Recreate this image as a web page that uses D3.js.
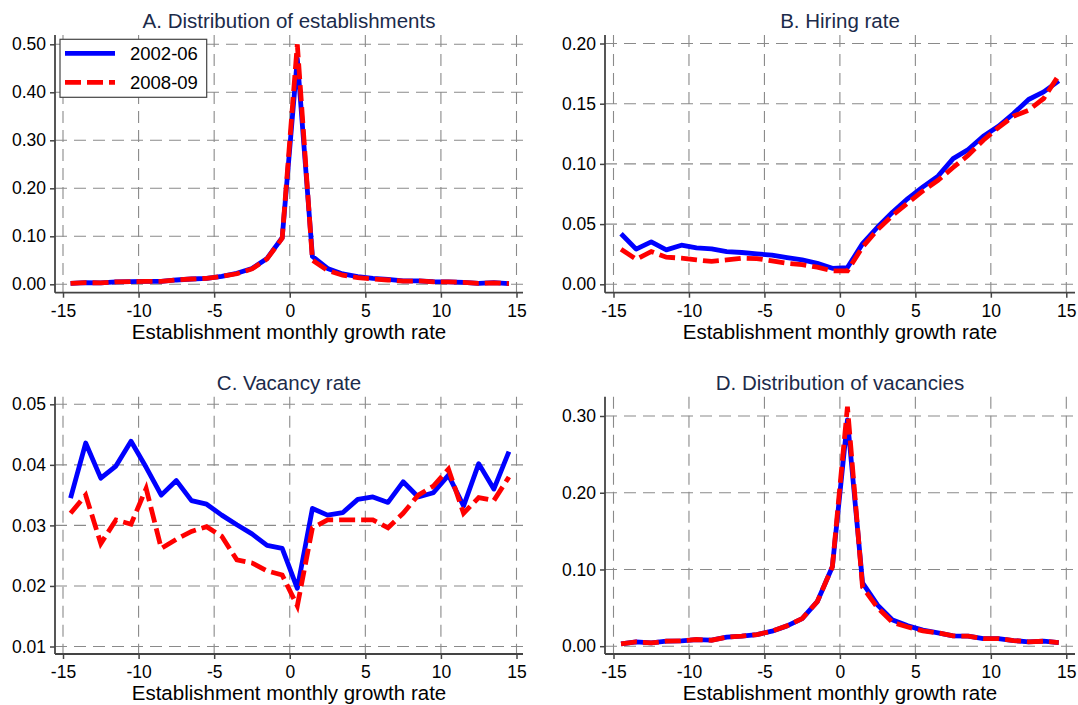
<!DOCTYPE html>
<html>
<head>
<meta charset="utf-8">
<script src="https://cdn.jsdelivr.net/npm/d3@7"></script>
<style>
  body { margin: 0; background: #fff; }
  svg { font-family: "Liberation Sans", Arial, sans-serif; }
</style>
</head>
<body>
<script>
// bin centres of the establishment monthly growth rate
const growthBins = [-14.5, -13.5, -12.5, -11.5, -10.5, -9.5, -8.5, -7.5, -6.5, -5.5, -4.5, -3.5, -2.5, -1.5, -0.5,
                    0.5, 1.5, 2.5, 3.5, 4.5, 5.5, 6.5, 7.5, 8.5, 9.5, 10.5, 11.5, 12.5, 13.5, 14.5];
const xTicks = [-15, -10, -5, 0, 5, 10, 15];
const periods = ["2002-06", "2008-09"];

// A. Distribution of establishments
const estab0206 = [0.002, 0.0035, 0.003, 0.005, 0.0055, 0.006, 0.006, 0.009, 0.011, 0.0125, 0.0167, 0.023, 0.033, 0.054, 0.097,
                   0.47, 0.058, 0.033, 0.0215, 0.016, 0.0125, 0.0104, 0.007, 0.007, 0.0055, 0.005, 0.004, 0.002, 0.0035, 0.0015];
const estab0809 = [0.002, 0.0035, 0.003, 0.005, 0.0055, 0.006, 0.006, 0.009, 0.011, 0.0125, 0.0165, 0.022, 0.032, 0.053, 0.096,
                   0.50, 0.05, 0.029, 0.019, 0.014, 0.011, 0.009, 0.0065, 0.007, 0.005, 0.005, 0.004, 0.002, 0.003, 0.0015];
const estabTicks = [0, 0.1, 0.2, 0.3, 0.4, 0.5];

// B. Hiring rate
const hire0206 = [0.042, 0.0292, 0.0353, 0.0286, 0.0325, 0.0303, 0.0294, 0.0272, 0.0264, 0.0253, 0.0242, 0.0222, 0.0203, 0.0175, 0.0133,
                  0.0139, 0.0338, 0.0476, 0.0601, 0.0712, 0.0809, 0.0898, 0.1044, 0.1119, 0.123, 0.1313, 0.1418, 0.1535, 0.1598, 0.169];
const hire0809 = [0.0292, 0.0208, 0.0272, 0.0225, 0.0217, 0.0203, 0.019, 0.0203, 0.0217, 0.0214, 0.0194, 0.0175, 0.0164, 0.0142, 0.0111,
                  0.0111, 0.031, 0.0454, 0.0573, 0.0676, 0.0776, 0.0864, 0.097, 0.1072, 0.1197, 0.1302, 0.1396, 0.1446, 0.1543, 0.1737];
const hireTicks = [0, 0.05, 0.1, 0.15, 0.2];

// C. Vacancy rate
const vac0206 = [0.0345, 0.0436, 0.0378, 0.0398, 0.0439, 0.0396, 0.035, 0.0374, 0.0341, 0.0335, 0.0317, 0.0301, 0.0286, 0.0267, 0.0262,
                 0.0196, 0.0328, 0.0317, 0.0321, 0.0343, 0.0347, 0.0338, 0.0372, 0.0347, 0.0354, 0.0383, 0.0332, 0.0402, 0.036, 0.0422];
const vac0809 = [0.032, 0.035, 0.027, 0.0309, 0.0302, 0.0361, 0.0262, 0.0277, 0.029, 0.0298, 0.0282, 0.0243, 0.0238, 0.0225, 0.0218,
                 0.0167, 0.0296, 0.0309, 0.0309, 0.0309, 0.0309, 0.0296, 0.032, 0.035, 0.0365, 0.0393, 0.032, 0.0346, 0.0341, 0.038];
const vacTicks = [0.01, 0.02, 0.03, 0.04, 0.05];

// D. Distribution of vacancies
const vdist0206 = [0.003, 0.0057, 0.0043, 0.0065, 0.007, 0.0087, 0.0078, 0.0117, 0.013, 0.0152, 0.0196, 0.0265, 0.036, 0.058, 0.1035,
                   0.295, 0.0826, 0.0535, 0.034, 0.0265, 0.021, 0.0174, 0.0135, 0.013, 0.01, 0.01, 0.0074, 0.0057, 0.0065, 0.0048];
const vdist0809 = [0.003, 0.0057, 0.0043, 0.0065, 0.007, 0.0087, 0.0078, 0.0117, 0.013, 0.0152, 0.0196, 0.0265, 0.036, 0.058, 0.1035,
                   0.312, 0.077, 0.05, 0.031, 0.025, 0.02, 0.0174, 0.0135, 0.013, 0.01, 0.01, 0.0074, 0.0057, 0.0065, 0.0048];
const vdistTicks = [0, 0.1, 0.2, 0.3];

const width = 1078;
const height = 705;

const svg = d3.select("body")
    .append("svg")
    .attr("width", width)
    .attr("height", height);

// where each panel sits on the page
const panels = [
    {title: "A. Distribution of establishments", a: estab0206, b: estab0809, ticks: estabTicks,
     left: 55, right: 523, top: 35, bottom: 292.7, xr: [63, 516.5], yr: [284.3, 44.3], legend: true},
    {title: "B. Hiring rate", a: hire0206, b: hire0809, ticks: hireTicks,
     left: 605, right: 1075, top: 35, bottom: 292.7, xr: [613.5, 1066.3], yr: [284.3, 43.5]},
    {title: "C. Vacancy rate", a: vac0206, b: vac0809, ticks: vacTicks,
     left: 55, right: 523, top: 396.7, bottom: 654, xr: [63, 516.5], yr: [646.5, 404.3]},
    {title: "D. Distribution of vacancies", a: vdist0206, b: vdist0809, ticks: vdistTicks,
     left: 605, right: 1075, top: 396.7, bottom: 654, xr: [613.5, 1066.3], yr: [646.2, 416]}
];

const gridColor = "#8a8a8a";
const axisColor = "#444";

panels.forEach(p => {
    const x = d3.scaleLinear().domain([-15, 15]).range(p.xr);
    const y = d3.scaleLinear().domain([p.ticks[0], p.ticks[p.ticks.length - 1]]).range(p.yr);
    const g = svg.append("g");

    // dashed grid
    g.selectAll(".hgrid")
        .data(p.ticks)
        .join("line")
        .attr("x1", p.left).attr("x2", p.right)
        .attr("y1", d => y(d)).attr("y2", d => y(d))
        .attr("stroke", gridColor).attr("stroke-width", 1.1)
        .attr("stroke-dasharray", "12,7");
    g.selectAll(".vgrid")
        .data(xTicks)
        .join("line")
        .attr("x1", d => x(d)).attr("x2", d => x(d))
        .attr("y1", p.top).attr("y2", p.bottom)
        .attr("stroke", gridColor).attr("stroke-width", 1.1)
        .attr("stroke-dasharray", "12,7");

    // axes
    const yAxis = g.append("g")
        .attr("transform", `translate(${p.left},0)`)
        .call(d3.axisLeft(y).tickValues(p.ticks).tickSize(5).tickPadding(4).tickFormat(d3.format(".2f")));
    const xAxis = g.append("g")
        .attr("transform", `translate(0,${p.bottom})`)
        .call(d3.axisBottom(x).tickValues(xTicks).tickSize(5).tickPadding(7).tickFormat(d => d));
    [yAxis, xAxis].forEach(ax => {
        ax.select(".domain").remove();
        ax.selectAll("line").attr("stroke", axisColor).attr("stroke-width", 1.5);
        ax.selectAll("text").attr("fill", "#000").style("font-size", "17.5px")
            .style("font-family", "'Liberation Sans', Arial, sans-serif");
    });
    g.append("line")
        .attr("x1", p.left).attr("x2", p.left).attr("y1", p.top).attr("y2", p.bottom)
        .attr("stroke", axisColor).attr("stroke-width", 1.8);
    g.append("line")
        .attr("x1", p.left).attr("x2", p.right).attr("y1", p.bottom).attr("y2", p.bottom)
        .attr("stroke", axisColor).attr("stroke-width", 1.8);

    // titles
    g.append("text")
        .attr("x", (p.left + p.right) / 2)
        .attr("y", p.top - 7)
        .attr("text-anchor", "middle")
        .attr("fill", "#1c2b4a")
        .style("font-size", "20.5px")
        .text(p.title);
    g.append("text")
        .attr("x", (p.left + p.right) / 2)
        .attr("y", p.bottom + 45.8)
        .attr("text-anchor", "middle")
        .attr("fill", "#000")
        .style("font-size", "20.5px")
        .text("Establishment monthly growth rate");

    const line = d3.line()
        .x((d, i) => x(growthBins[i]))
        .y(d => y(d));

    g.append("path")
        .datum(p.a)
        .attr("fill", "none")
        .attr("stroke", "#0000ff")
        .attr("stroke-width", 4.8)
        .attr("stroke-linejoin", "round")
        .attr("d", line);
    g.append("path")
        .datum(p.b)
        .attr("fill", "none")
        .attr("stroke", "#ff0000")
        .attr("stroke-width", 4.8)
        .attr("stroke-dasharray", "16,6")
        .attr("d", line);

    if (p.legend) {
        const lg = svg.append("g").attr("transform", "translate(60,39.3)");
        lg.append("rect")
            .attr("width", 146.7).attr("height", 58)
            .attr("fill", "#fff").attr("stroke", axisColor).attr("stroke-width", 1.2);
        const styles = [{c: "#0000ff", dash: null}, {c: "#ff0000", dash: "16,6"}];
        periods.forEach((name, i) => {
            lg.append("line")
                .attr("x1", 5).attr("x2", 55)
                .attr("y1", 14 + i * 29).attr("y2", 14 + i * 29)
                .attr("stroke", styles[i].c).attr("stroke-width", 4.8)
                .attr("stroke-dasharray", styles[i].dash);
            lg.append("text")
                .attr("x", 70).attr("y", 21 + i * 29)
                .attr("fill", "#000")
                .style("font-size", "18.5px")
                .text(name);
        });
    }
});
</script>
</body>
</html>
